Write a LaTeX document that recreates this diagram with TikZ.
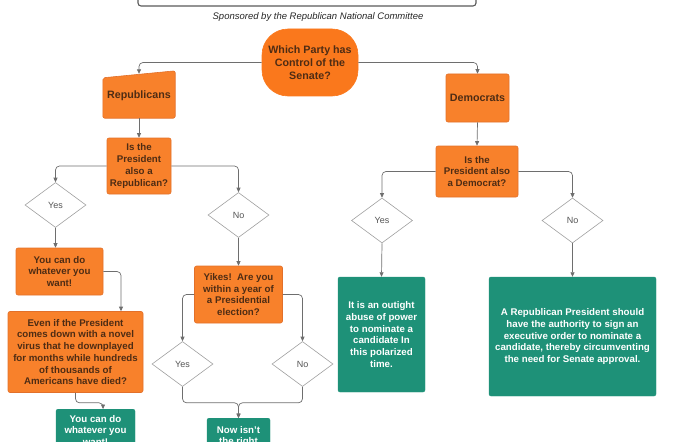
\documentclass[tikz,border=0pt]{standalone}
\usepackage{fontspec}
\setmainfont{Liberation Sans}
\usetikzlibrary{arrows.meta,shapes.geometric,calc,backgrounds}
\definecolor{orf}{HTML}{F8812B}
\definecolor{ord}{HTML}{E2702A}
\definecolor{ortop}{HTML}{FA781C}
\definecolor{brn}{HTML}{4E2C14}
\definecolor{grn}{HTML}{1E9178}
\definecolor{lin}{HTML}{6E6E6E}
\definecolor{dgray}{HTML}{A0A0A0}
\definecolor{dtxt}{HTML}{555555}
\begin{document}
\begin{tikzpicture}[x=1pt,y=-1pt,
  orbox/.style={draw=ord, fill=orf, line width=0.6pt, rounded corners=2pt, text=brn,
    font=\bfseries\fontsize{9.7}{11.7}\selectfont, align=center, inner sep=0pt},
  grbox/.style={draw=grn, fill=grn, rounded corners=2pt, text=white,
    font=\bfseries\fontsize{9.7}{11.7}\selectfont, align=center, inner sep=0pt},
  dia/.style={diamond, aspect=1.35, draw=dgray, fill=white, line width=0.6pt, text=dtxt,
    font=\fontsize{9}{11}\selectfont, minimum width=61pt, minimum height=45pt, inner sep=0pt},
  conn/.style={draw=lin, line width=0.7pt, rounded corners=4pt, -{Triangle[width=4pt,length=4.5pt]}},
  big/.style={font=\bfseries\fontsize{10.7}{13}\selectfont}]
\useasboundingbox (0,0) rectangle (700,441);

% title box (only bottom visible)
\node[draw=black!65, line width=1.1pt, rounded corners=3pt, minimum width=338pt, minimum height=40pt, inner sep=0pt] (title) at (307,-14) {};
\node[font=\itshape\fontsize{9.5}{11}\selectfont, text=black!85] (sub) at (318,17) {Sponsored by the Republican National Committee};

% top question
\node[orbox, big, fill=ortop, draw=ortop, rounded corners=26pt, minimum width=96pt, minimum height=67pt] (q) at (310,62.5) {Which Party has\\Control of the\\Senate?};

% Republicans (manual input shape)
\node[big, text=brn, minimum width=72pt, minimum height=44pt, inner sep=0pt] (rep) at (139,96) {Republicans};
\begin{scope}[on background layer]
\draw[draw=ord, fill=orf, line width=0.6pt, rounded corners=2pt]
  (rep.south west) -- ([yshift=-4pt]rep.north west) -- ([yshift=3pt]rep.north east) -- (rep.south east) -- cycle;
\end{scope}

\node[orbox, big, minimum width=63pt, minimum height=48pt] (dem) at (477.5,98) {Democrats};

\node[orbox, minimum width=64pt, minimum height=56pt] (isrep) at (139,166) {Is the\\President\\also a\\Republican?};
\node[orbox, minimum width=82pt, minimum height=51pt] (isdem) at (477,171.5) {Is the\\President also\\a Democrat?};

\node[dia] (yes1) at (55.5,205) {Yes};
\node[dia] (no1) at (238.5,215) {No};

\node[orbox, minimum width=87pt, minimum height=47pt] (youcan) at (59.5,271.5) {You can do\\whatever you\\want!};
\node[orbox, minimum width=135pt, minimum height=81pt] (even) at (75.5,352) {Even if the President\\comes down with a novel\\virus that he downplayed\\for months while hundreds\\of thousands of\\Americans have died?};
\node[orbox, minimum width=88pt, minimum height=57pt] (yikes) at (238.5,294.5) {Yikes!\ \ Are you\\within a year of\\a Presidential\\election?};

\node[dia] (yes2) at (182.5,364) {Yes};
\node[dia] (no2) at (302.5,364) {No};

\node[grbox, anchor=north, minimum width=79pt, inner ysep=6pt] (g1) at (95.5,409) {You can do\\whatever you\\want!};
\node[grbox, anchor=north, minimum width=63pt, inner ysep=8pt] (g2) at (238.5,418) {Now isn't\\the right\\time.};

\node[dia] (yes3) at (382,220.5) {Yes};
\node[dia] (no3) at (572.5,220.5) {No};

\node[grbox, minimum width=87pt, minimum height=115pt] (g3) at (381.5,334.5) {It is an outight\\abuse of power\\to nominate a\\candidate In\\this polarized\\time.};
\node[grbox, minimum width=167pt, minimum height=119pt] (g4) at (572.5,336.5) {A Republican President should\\have the authority to sign an\\executive order to nominate a\\candidate, thereby circumventing\\the need for Senate approval.};

% connectors
\draw[conn] (q.west) -| (rep.north);
\draw[conn] (q.east) -| (dem.north);
\draw[conn] (rep.south) -- (isrep.north);
\draw[conn] (dem.south) -- (isdem.north);
\draw[conn] (isrep.west) -| (yes1.north);
\draw[conn] (isrep.east) -| (no1.north);
\draw[conn] (yes1.south) -- (yes1.south |- youcan.north);
\draw[conn] (no1.south) -- (yikes.north);
\draw[conn] (youcan.east) -| ([xshift=45.5pt]even.north);
\draw[conn] (even.south) -- ++(0,10) -| ([xshift=7.5pt]g1.north);
\draw[conn] (yikes.west) -| (yes2.north);
\draw[conn] (yikes.east) -| (no2.north);
\draw[conn] (yes2.south) -- ++(0,16) -| (g2.north);
\draw[conn] (no2.south) -- ++(0,16) -| (g2.north);
\draw[conn] (isdem.west) -| (yes3.north);
\draw[conn] (isdem.east) -| (no3.north);
\draw[conn] (yes3.south) -- (g3.north);
\draw[conn] (no3.south) -- (g4.north);
\end{tikzpicture}
\end{document}
